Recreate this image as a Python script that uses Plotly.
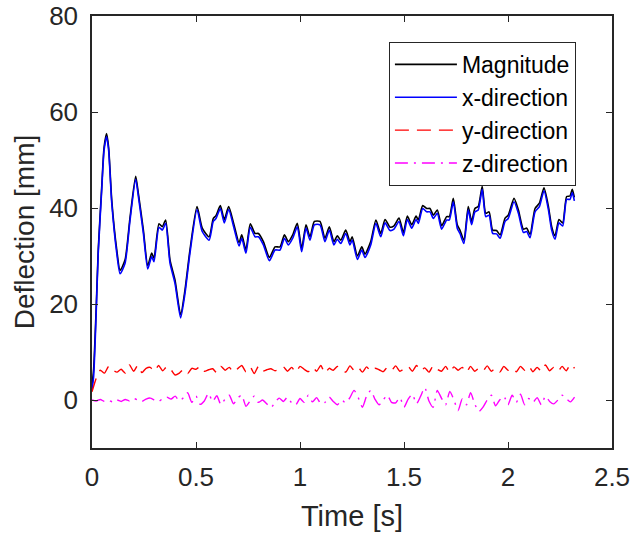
import plotly.graph_objects as go

# ---- data ----
t_main = [0.0, 0.008, 0.02, 0.03, 0.047, 0.058, 0.070, 0.08, 0.095, 0.119, 0.135, 0.159, 0.183, 0.21, 0.223,
          0.247, 0.268, 0.287, 0.298, 0.322, 0.338, 0.354, 0.375, 0.399, 0.426, 0.447, 0.471, 0.505, 0.530,
          0.563, 0.583, 0.596, 0.617, 0.636, 0.657, 0.681, 0.707, 0.720, 0.740, 0.761, 0.784, 0.8, 0.824,
          0.853, 0.88, 0.904, 0.925, 0.944, 0.965, 0.987, 1.008, 1.029, 1.048, 1.069, 1.096, 1.12, 1.141,
          1.163, 1.179, 1.196, 1.22, 1.24, 1.251, 1.276, 1.297, 1.3125, 1.34, 1.365, 1.388, 1.409, 1.433,
          1.452, 1.476, 1.497, 1.516, 1.537, 1.558, 1.569, 1.590, 1.609, 1.625, 1.641, 1.660, 1.681, 1.705,
          1.718, 1.737, 1.756, 1.769, 1.788, 1.809, 1.825, 1.841, 1.857, 1.876, 1.893, 1.909, 1.926, 1.945,
          1.962, 1.986, 2.001, 2.029, 2.05, 2.074, 2.09, 2.106, 2.13, 2.151, 2.173, 2.194, 2.210, 2.226,
          2.245, 2.263, 2.282, 2.298, 2.309, 2.319]

x_direction = [2.0, 5.0, 18.0, 30.6, 44.0, 52.0, 54.9, 52.0, 41.0, 30.6, 26.3, 28.5, 37.5, 46.0, 42.4,
               34.7, 27.3, 29.9, 28.8, 36.0, 35.4, 36.8, 28.5, 24.3, 17.1, 22.2, 30.6, 39.7, 35.1,
               33.3, 37.2, 37.8, 39.9, 36.9, 39.7, 36.1, 32.1, 33.7, 30.6, 36.0, 34.0, 34.0, 32.3,
               29.0, 31.25, 31.25, 33.7, 32.3, 33.7, 36.1, 30.9, 35.8, 33.3, 36.5, 36.5, 33.0, 35.4,
               32.3, 33.5, 32.6, 34.7, 32.3, 33.3, 29.3, 31.25, 29.7, 32.3, 36.8, 34.0, 36.9, 35.3,
               35.6, 37.2, 34.2, 37.6, 35.8, 37.6, 36.8, 39.9, 39.2, 39.2, 37.8, 38.9, 35.6, 37.5,
               37.5, 41.3, 35.8, 34.7, 32.6, 39.6, 36.5, 39.2, 39.6, 43.9, 38.2, 38.5, 34.7, 34.6,
               33.7, 37.2, 37.8, 41.3, 38.9, 34.9, 35.1, 33.8, 39.2, 40.3, 43.6, 39.7, 35.4, 33.5,
               36.9, 36.25, 41.8, 41.8, 43.2, 41.5]

magnitude = [3.0, 6.5, 19.0, 31.3, 44.6, 52.6, 55.5, 52.6, 41.6, 31.3, 27.0, 29.2, 38.1, 46.6, 43.0,
             35.4, 28.0, 30.6, 29.5, 36.7, 36.1, 37.5, 29.2, 25.0, 17.8, 22.9, 31.3, 40.3, 35.8,
             34.0, 37.8, 38.4, 40.5, 37.6, 40.3, 36.8, 32.8, 34.4, 31.3, 36.7, 34.7, 34.7, 33.0,
             29.7, 31.9, 31.9, 34.4, 33.0, 34.4, 36.8, 31.6, 36.5, 34.0, 37.2, 37.2, 33.7, 36.1,
             33.0, 34.2, 33.3, 35.4, 33.0, 34.0, 30.0, 31.9, 30.4, 33.0, 37.5, 34.7, 37.6, 36.0,
             36.3, 37.9, 34.9, 38.3, 36.5, 38.3, 37.5, 40.5, 39.9, 39.9, 38.5, 39.6, 36.3, 38.2,
             38.2, 42.0, 36.5, 35.4, 33.3, 40.3, 37.2, 39.9, 40.3, 44.5, 38.9, 39.2, 35.4, 35.3,
             34.4, 37.9, 38.5, 42.0, 39.6, 35.6, 35.8, 34.5, 39.9, 41.0, 44.2, 40.4, 36.1, 34.2,
             37.6, 36.9, 42.4, 42.5, 43.9, 42.2]

t_yz = [round(0.02 * i, 2) for i in range(117)]

y_direction = [1.7, 4.5, 6.2, 5.6, 7.0, 6.2, 5.8, 6.4, 5.6, 7.3, 6.0, 7.2, 5.7, 6.6, 6.8, 6.0, 7.2, 6.1, 7.0, 6.3,
               5.2, 5.6, 6.4, 5.5, 6.6, 6.4, 7.0, 6.0, 6.3, 6.5, 5.7, 7.0, 6.2, 6.8, 5.8, 6.5, 7.2, 5.9, 6.9, 5.5,
               7.0, 6.0, 6.3, 6.5, 6.1, 6.4, 6.9, 6.0, 6.8, 5.8, 7.0, 6.4, 5.9, 6.8, 6.0, 7.2, 5.6, 6.6, 6.2, 7.0,
               6.5, 5.8, 7.1, 6.2, 6.8, 5.8, 6.9, 6.0, 6.6, 6.3, 5.9, 6.8, 6.2, 7.1, 6.0, 6.5, 7.0, 6.0, 7.2, 6.1,
               6.7, 5.8, 7.1, 6.4, 6.0, 7.0, 5.8, 6.9, 6.2, 6.8, 5.8, 7.0, 6.0, 6.6, 6.1, 7.1, 6.0, 6.6, 5.8, 7.0,
               6.2, 6.6, 5.9, 7.0, 6.2, 7.0, 5.9, 6.8, 6.0, 7.3, 6.1, 6.8, 6.0, 7.0, 6.1, 7.4, 6.6]

z_direction = [0.0, -0.2, 0.1, -0.3, -0.1, -0.4, 0.0, -0.3, 0.1, -0.2, 0.3, 0.0, -0.3, 0.2, 0.4, 0.0, -0.3, 0.3, 0.6, 0.2,
               0.8, -0.2, 0.5, 1.5, -0.5, 0.8, -0.9, -0.2, 1.4, -0.3, 0.9, -1.0, 0.2, 1.0, -0.8, 0.4, 1.0, -1.3, -0.2, 0.8,
               -0.5, 0.0, -0.8, -1.6, -0.5, 0.4, -0.3, 0.6, -0.6, -1.0, 0.3, -0.5, 1.0, -0.4, 0.5, -0.8, -0.5, 0.6, -0.3, -1.0,
               0.0, -0.6, 0.5, 2.0, 0.5, -1.5, 0.8, 2.0, 0.2, -1.0, 0.0, 1.0, -0.5, -0.6, 0.5, -1.5, 0.2, 1.2, -0.8, 0.8,
               2.6, -0.2, -1.5, 2.0, 0.4, -1.0, 1.8, 0.0, -2.2, 0.2, -1.0, 1.5, -0.8, -2.4, -1.5, 0.0, 1.0, -1.2, 0.0, 0.8,
               -1.0, 1.0, -0.5, 1.2, -1.0, 0.3, -0.5, 0.5, -1.0, 0.8, -0.3, -0.8, 0.0, 1.0, 0.3, -0.4, 0.6]

x_ticks = [0, 0.5, 1, 1.5, 2, 2.5]
x_tick_labels = ["0", "0.5", "1", "1.5", "2", "2.5"]
y_ticks = [0, 20, 40, 60, 80]
y_tick_labels = ["0", "20", "40", "60", "80"]

FONT = "Liberation Sans, Arial, sans-serif"
AX = "#262626"

fig = go.Figure()
fig.add_trace(go.Scatter(x=t_main, y=magnitude, mode="lines", name="Magnitude", legendgroup="a",
                         line=dict(color="black", width=1.6, shape="spline", smoothing=0.6)))
fig.add_trace(go.Scatter(x=t_main, y=x_direction, mode="lines", name="x-direction", legendgroup="b",
                         line=dict(color="#0000ff", width=1.6, shape="spline", smoothing=0.6)))
fig.add_trace(go.Scatter(x=t_yz, y=y_direction, mode="lines", name="y-direction", legendgroup="c",
                         line=dict(color="#ff0000", width=1.4, dash="14px,8px", shape="spline", smoothing=0.6)))
fig.add_trace(go.Scatter(x=t_yz, y=z_direction, mode="lines", name="z-direction", legendgroup="d",
                         line=dict(color="#ff00ff", width=1.4, dash="13px,6px,2px,6px", shape="spline", smoothing=0.6)))

axis_common = dict(showline=True, linecolor=AX, linewidth=1.5, mirror="ticks", ticks="inside",
                   ticklen=6, tickwidth=1.3, tickcolor=AX, showgrid=False, zeroline=False,
                   automargin=False, ticklabeloverflow="allow",
                   tickfont=dict(family=FONT, size=26, color=AX))

fig.update_xaxes(range=[0, 2.5], tickvals=x_ticks, ticktext=x_tick_labels, ticklabelstandoff=5,
                 title=dict(text="Time [s]", font=dict(family=FONT, size=29, color=AX), standoff=15),
                 **axis_common)
fig.update_yaxes(range=[-10, 80], tickvals=y_ticks, ticktext=y_tick_labels, ticklabelstandoff=7,
                 title=dict(text="Deflection [mm]", font=dict(family=FONT, size=28, color=AX), standoff=6),
                 **axis_common)

fig.update_layout(
    width=630, height=538,
    margin=dict(l=92, r=18, t=16, b=90, autoexpand=False),
    paper_bgcolor="white", plot_bgcolor="white",
    showlegend=True,
    legend=dict(x=0.571, y=0.94, xanchor="left", yanchor="top",
                bgcolor="white", bordercolor=AX, borderwidth=1,
                font=dict(family=FONT, size=23, color="black"),
                traceorder="grouped", tracegroupgap=0, itemwidth=62),
)

fig.write_html("out.html", config={"displayModeBar": False},
               post_script="document.body.style.margin='0';document.body.style.overflow='hidden';")
